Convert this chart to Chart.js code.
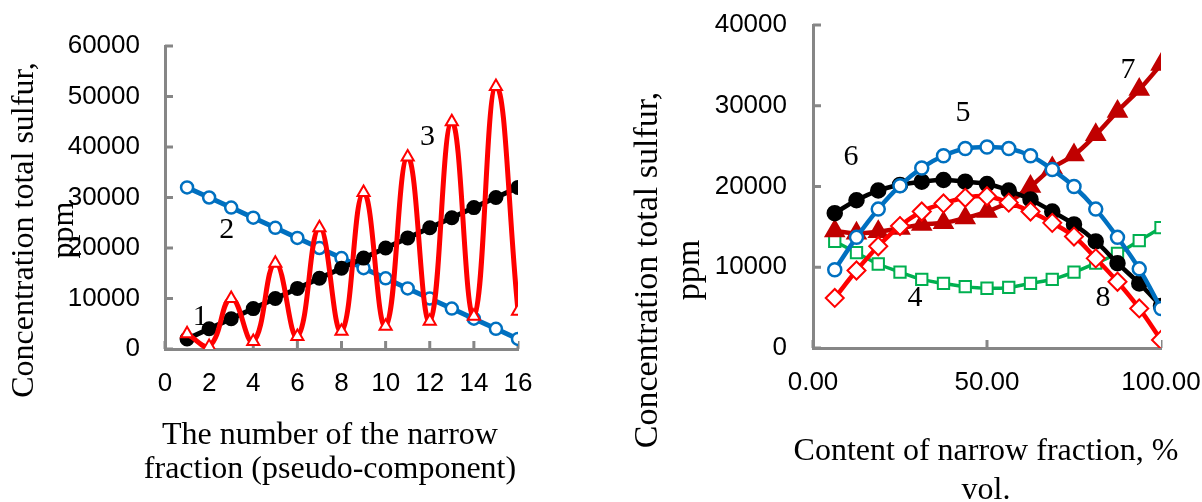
<!DOCTYPE html>
<html>
<head>
<meta charset="utf-8">
<script src="https://cdn.jsdelivr.net/npm/chart.js@4.4.1/dist/chart.umd.min.js"></script>
<style>
  body { margin: 0; background: #fff; }
  #wrap { position: relative; width: 1202px; height: 502px; }
  canvas { position: absolute; top: 0; }
</style>
</head>
<body>
<div id="wrap">
  <canvas id="leftChart" width="600" height="502" style="left:0"></canvas>
  <canvas id="rightChart" width="602" height="502" style="left:600px"></canvas>
</div>
<script>
// ---- left plot: sulfur by narrow fraction number ----
const fractionNo = [1, 2, 3, 4, 5, 6, 7, 8, 9, 10, 11, 12, 13, 14, 15, 16];
const curve1 = [2000, 4000, 6000, 8000, 10000, 12000, 14000, 16000, 18000, 20000, 22000, 24000, 26000, 28000, 30000, 32000];
const curve2 = [32000, 30000, 28000, 26000, 24000, 22000, 20000, 18000, 16000, 14000, 12000, 10000, 8000, 6000, 4000, 2000];
const curve3 = [3000, 500, 10000, 1500, 17000, 2500, 24000, 3500, 31000, 4500, 38000, 5500, 45000, 6500, 52000, 7500];
const leftTicksX = [0, 2, 4, 6, 8, 10, 12, 14, 16];
const leftTicksY = [0, 10000, 20000, 30000, 40000, 50000, 60000];
const leftNames = ['1', '2', '3'];
const leftNameX = [1.6, 2.8, 11.9];
const leftNameY = [6400, 23600, 41900];

// ---- right plot: sulfur by content of narrow fraction ----
const content = [6.25, 12.5, 18.75, 25, 31.25, 37.5, 43.75, 50, 56.25, 62.5, 68.75, 75, 81.25, 87.5, 93.75, 100];
const curve4 = [13200, 11800, 10400, 9400, 8500, 8000, 7600, 7400, 7500, 8000, 8500, 9400, 10500, 11700, 13300, 14900];
const curve5 = [9700, 13700, 17200, 20100, 22300, 23800, 24700, 24900, 24700, 23800, 22100, 20000, 17200, 13700, 9800, 4900];
const curve6 = [16700, 18300, 19500, 20200, 20600, 20800, 20600, 20300, 19500, 18400, 16900, 15300, 13200, 10500, 8000, 5200];
const curve7 = [14500, 14200, 14400, 14800, 15300, 15500, 16100, 16900, 18100, 20000, 22300, 23900, 26400, 29300, 32000, 35100];
const curve8 = [6200, 9600, 12600, 15100, 16900, 17900, 18600, 18800, 18000, 16900, 15500, 13800, 11100, 8200, 4900, 1000];
const rightTicksX = [0, 50, 100];
const rightTicksY = [0, 10000, 20000, 30000, 40000];
const rightNames = ['4', '5', '6', '7', '8'];
const rightNameX = [29.3, 43.1, 10.9, 90.5, 83.3];
const rightNameY = [6200, 29100, 23600, 34400, 6200];

const AXIS_GREY = '#868686';
const SERIF = '"Liberation Serif", "Times New Roman", serif';
const SANS = '"Liberation Sans", Arial, sans-serif';

const pts = (xs, ys) => xs.map((x, i) => ({ x: x, y: ys[i] }));

// inner tick marks, curve numbers and axis titles
const decor = {
  id: 'decor',
  beforeDatasetsDraw(chart) {
    const ctx = chart.ctx;
    const { x, y } = chart.scales;
    ctx.save();
    ctx.strokeStyle = AXIS_GREY;
    ctx.lineWidth = 3;
    x.ticks.forEach(t => {
      const px = x.getPixelForValue(t.value);
      ctx.beginPath();
      ctx.moveTo(px, y.bottom);
      ctx.lineTo(px, y.bottom - 8);
      ctx.stroke();
    });
    y.ticks.forEach(t => {
      const py = y.getPixelForValue(t.value);
      ctx.beginPath();
      ctx.moveTo(x.left, py);
      ctx.lineTo(x.left + 8, py);
      ctx.stroke();
    });
    ctx.restore();
  },
  afterDraw(chart, args, opts) {
    const ctx = chart.ctx;
    const { x, y } = chart.scales;
    ctx.save();
    ctx.fillStyle = '#000';
    ctx.textAlign = 'center';
    ctx.textBaseline = 'middle';
    ctx.font = '30px ' + SERIF;
    opts.names.forEach((n, i) => {
      ctx.fillText(n, x.getPixelForValue(opts.nameX[i]), y.getPixelForValue(opts.nameY[i]));
    });
    opts.titles.forEach(t => {
      ctx.save();
      ctx.font = (t.size || 32) + 'px ' + SERIF;
      ctx.translate(t.x, t.y);
      if (t.rot) ctx.rotate(-Math.PI / 2);
      ctx.fillText(t.text, 0, 0);
      ctx.restore();
    });
    ctx.restore();
  }
};

// label gap comes from tickLength (grid hidden) so that ticks.padding does not grow the layout padding
function makeScales(xTicks, yTicks, yWidth, xHeight, yGap, xFmt) {
  return {
    x: {
      type: 'linear',
      min: xTicks[0],
      max: xTicks[xTicks.length - 1],
      afterBuildTicks: s => { s.ticks = xTicks.map(v => ({ value: v })); },
      afterFit: s => { s.height = xHeight; },
      grid: { display: false, drawTicks: true, tickLength: 19 },
      border: { color: AXIS_GREY, width: 3 },
      ticks: { color: '#000', font: { family: SANS, size: 26 }, padding: 0, maxRotation: 0, autoSkip: false, callback: xFmt }
    },
    y: {
      min: yTicks[0],
      max: yTicks[yTicks.length - 1],
      afterBuildTicks: s => { s.ticks = yTicks.map(v => ({ value: v })); },
      afterFit: s => { s.width = yWidth; },
      grid: { display: false, drawTicks: true, tickLength: yGap },
      border: { color: AXIS_GREY, width: 3 },
      ticks: { color: '#000', font: { family: SANS, size: 26 }, padding: 0, callback: v => String(v) }
    }
  };
}

new Chart(document.getElementById('leftChart'), {
  type: 'line',
  data: {
    datasets: [
      { label: '3', data: pts(fractionNo, curve3), borderColor: '#FF0000', borderWidth: 5, tension: 0.45,
        pointStyle: 'triangle', pointRadius: 7, pointBorderWidth: 2, pointBackgroundColor: '#fff', pointBorderColor: '#FF0000' },
      { label: '1', data: pts(fractionNo, curve1), borderColor: '#000', borderWidth: 5,
        pointStyle: 'circle', pointRadius: 5, pointBackgroundColor: '#000', pointBorderColor: '#000' },
      { label: '2', data: pts(fractionNo, curve2), borderColor: '#0070C0', borderWidth: 5,
        pointStyle: 'circle', pointRadius: 6, pointBorderWidth: 2.5, pointBackgroundColor: '#fff', pointBorderColor: '#0070C0' }
    ]
  },
  options: {
    responsive: false,
    animation: false,
    events: [],
    layout: { autoPadding: false, padding: { left: 0, top: 46, right: 82, bottom: 0 } },
    scales: makeScales(leftTicksX, leftTicksY, 165, 153, 25, v => String(v)),
    plugins: {
      legend: { display: false },
      tooltip: { enabled: false },
      decor: {
        names: leftNames, nameX: leftNameX, nameY: leftNameY,
        titles: [
          { text: 'Concentration total sulfur,', x: 25, y: 230, rot: true },
          { text: 'ppm', x: 65, y: 230, rot: true },
          { text: 'The number of the narrow', x: 330, y: 436 },
          { text: 'fraction (pseudo-component)', x: 330, y: 470 }
        ]
      }
    }
  },
  plugins: [decor]
});

new Chart(document.getElementById('rightChart'), {
  type: 'line',
  data: {
    datasets: [
      { label: '8', data: pts(content, curve8), borderColor: '#FF0000', borderWidth: 4.5, tension: 0.4,
        pointStyle: 'rectRot', pointRadius: 9, pointBorderWidth: 2, pointBackgroundColor: '#fff', pointBorderColor: '#FF0000' },
      { label: '5', data: pts(content, curve5), borderColor: '#0070C0', borderWidth: 4.5, tension: 0.4,
        pointStyle: 'circle', pointRadius: 6.5, pointBorderWidth: 2.5, pointBackgroundColor: '#fff', pointBorderColor: '#0070C0' },
      { label: '6', data: pts(content, curve6), borderColor: '#000', borderWidth: 4.5, tension: 0.4,
        pointStyle: 'circle', pointRadius: 6, pointBackgroundColor: '#000', pointBorderColor: '#000' },
      { label: '7', data: pts(content, curve7), borderColor: '#C00000', borderWidth: 4.5, tension: 0.4,
        pointStyle: 'triangle', pointRadius: 8, pointBackgroundColor: '#C00000', pointBorderColor: '#C00000' },
      { label: '4', data: pts(content, curve4), borderColor: '#00B050', borderWidth: 3.5, tension: 0.4,
        pointStyle: 'rect', pointRadius: 8, pointBorderWidth: 2, pointBackgroundColor: '#fff', pointBorderColor: '#00B050' }
    ]
  },
  options: {
    responsive: false,
    animation: false,
    events: [],
    layout: { autoPadding: false, padding: { left: 0, top: 25, right: 41, bottom: 0 } },
    scales: makeScales(rightTicksX, rightTicksY, 213, 154, 26, v => v.toFixed(2)),
    plugins: {
      legend: { display: false },
      tooltip: { enabled: false },
      decor: {
        names: rightNames, nameX: rightNameX, nameY: rightNameY,
        titles: [
          { text: 'Concentration total sulfur,', x: 48, y: 270, rot: true, size: 34 },
          { text: 'ppm', x: 90, y: 270, rot: true, size: 34 },
          { text: 'Content of narrow fraction, %', x: 386, y: 452 },
          { text: 'vol.', x: 386, y: 491 }
        ]
      }
    }
  },
  plugins: [decor]
});
</script>
</body>
</html>
